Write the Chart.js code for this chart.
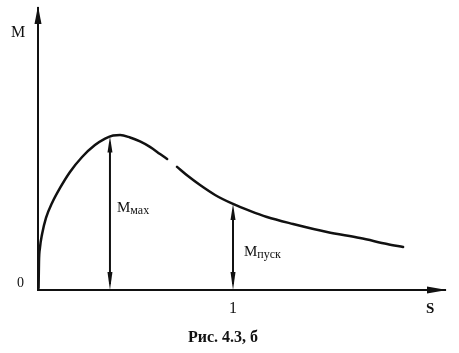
<!DOCTYPE html>
<html>
<head>
<meta charset="utf-8">
<script src="https://cdn.jsdelivr.net/npm/chart.js@4"></script>
<style>
  html, body { margin: 0; padding: 0; background: #fff; }
  #wrap { width: 459px; height: 353px; }
</style>
</head>
<body>
<div id="wrap"><canvas id="chart"></canvas></div>
<script>
// slip s and torque M (M relative to Mmax)
const slip   = [0.003, 0.005, 0.010, 0.021, 0.041, 0.072, 0.113, 0.164, 0.226, 0.292, 0.344, 0.385, 0.421, 0.472, 0.523, 0.574, 0.626, 0.662, 0.690, 0.713, 0.769, 0.831, 0.908, 1.000, 1.087, 1.174, 1.308, 1.482, 1.651, 1.790, 1.872];
const torque = [0.013, 0.181, 0.271, 0.361, 0.465, 0.561, 0.658, 0.761, 0.858, 0.935, 0.977, 0.997, 1.000, 0.984, 0.958, 0.923, 0.877, 0.845, null,  0.794, 0.735, 0.677, 0.613, 0.555, 0.510, 0.471, 0.426, 0.374, 0.335, 0.297, 0.277];

const xTicks = [1];
const yTicks = [0];
const xMax = 2.087;
const yMax = 1.819;

// double arrows: Mmax and Mпуск
const markS = [0.369, 1.0];
const markM = [0.99, 0.555];
const markMain = ['M', 'M'];
const markSub = ['мах', 'пуск'];

const caption = 'Рис. 4.3, б';
const ink = '#111';

function arrowHead(ctx, x, y, dx, dy, len, half) {
  // tip at (x,y), pointing along (dx,dy)
  ctx.beginPath();
  ctx.moveTo(x, y);
  ctx.lineTo(x - dx * len - dy * half, y - dy * len + dx * half);
  ctx.lineTo(x - dx * len + dy * half, y - dy * len - dx * half);
  ctx.closePath();
  ctx.fill();
}

const extras = {
  id: 'extras',
  afterDraw(chart) {
    const ctx = chart.ctx;
    const xs = chart.scales.x, ys = chart.scales.y;
    const area = chart.chartArea;
    ctx.save();
    ctx.fillStyle = ink;
    ctx.strokeStyle = ink;

    // axis arrowheads
    arrowHead(ctx, area.left, area.top - 2, 0, -1, 18, 3.5);
    arrowHead(ctx, area.right + 2, area.bottom, 1, 0, 20, 3.5);

    // axis names
    ctx.font = '16px "Liberation Serif"';
    ctx.textAlign = 'left';
    ctx.textBaseline = 'alphabetic';
    ctx.fillText('M', 11, 37);
    ctx.font = 'bold 15px "Liberation Serif"';
    ctx.fillText('S', 426, 313);

    // double arrows with labels
    for (let i = 0; i < markS.length; i++) {
      const px = xs.getPixelForValue(markS[i]);
      const top = ys.getPixelForValue(markM[i]);
      const bot = ys.getPixelForValue(0);
      ctx.lineWidth = 2;
      ctx.beginPath();
      ctx.moveTo(px, top + 6);
      ctx.lineTo(px, bot - 6);
      ctx.stroke();
      arrowHead(ctx, px, top, 0, -1, 16, 2.5);
      arrowHead(ctx, px, bot, 0, 1, 18, 2.5);

      const lx = px + (i === 0 ? 7 : 11);
      const ly = i === 0 ? 212 : 256;
      ctx.font = '15px "Liberation Serif"';
      ctx.fillText(markMain[i], lx, ly);
      const w = ctx.measureText(markMain[i]).width;
      ctx.font = '12px "Liberation Serif"';
      ctx.fillText(markSub[i], lx + w, ly + 2);
    }

    // caption
    ctx.font = 'bold 16px "Liberation Serif"';
    ctx.textAlign = 'center';
    ctx.fillText(caption, 223, 342);
    ctx.restore();
  }
};

new Chart(document.getElementById('chart'), {
  type: 'line',
  data: {
    datasets: [{
      data: slip.map((s, i) => ({ x: s, y: torque[i] })),
      borderColor: ink,
      borderWidth: 2.5,
      pointRadius: 0,
      fill: false,
      spanGaps: false,
      cubicInterpolationMode: 'monotone',
      borderCapStyle: 'round'
    }]
  },
  options: {
    responsive: true,
    maintainAspectRatio: false,
    animation: false,
    layout: { padding: { top: 8, right: 14, left: 0, bottom: 0 } },
    plugins: { legend: { display: false }, tooltip: { enabled: false }, title: { display: false } },
    scales: {
      x: {
        type: 'linear',
        min: 0,
        max: xMax,
        grid: { display: false, drawTicks: false },
        border: { display: true, color: ink, width: 2 },
        afterBuildTicks: (s) => { s.ticks = xTicks.map(v => ({ value: v })); },
        afterFit: (s) => { s.height = 63; s.paddingLeft = 0; s.paddingRight = 0; },
        ticks: {
          color: ink,
          padding: 9,
          maxRotation: 0,
          font: { family: 'Liberation Serif', size: 16 },
          callback: (v) => String(v)
        }
      },
      y: {
        type: 'linear',
        min: 0,
        max: yMax,
        grid: { display: false, drawTicks: false },
        border: { display: true, color: ink, width: 2 },
        afterBuildTicks: (s) => { s.ticks = yTicks.map(v => ({ value: v })); },
        afterFit: (s) => { s.width = 38; s.paddingTop = 0; s.paddingBottom = 0; },
        ticks: {
          color: ink,
          padding: 14,
          labelOffset: -7,
          font: { family: 'Liberation Serif', size: 14 },
          callback: (v) => String(v)
        }
      }
    }
  },
  plugins: [extras]
});
</script>
</body>
</html>
